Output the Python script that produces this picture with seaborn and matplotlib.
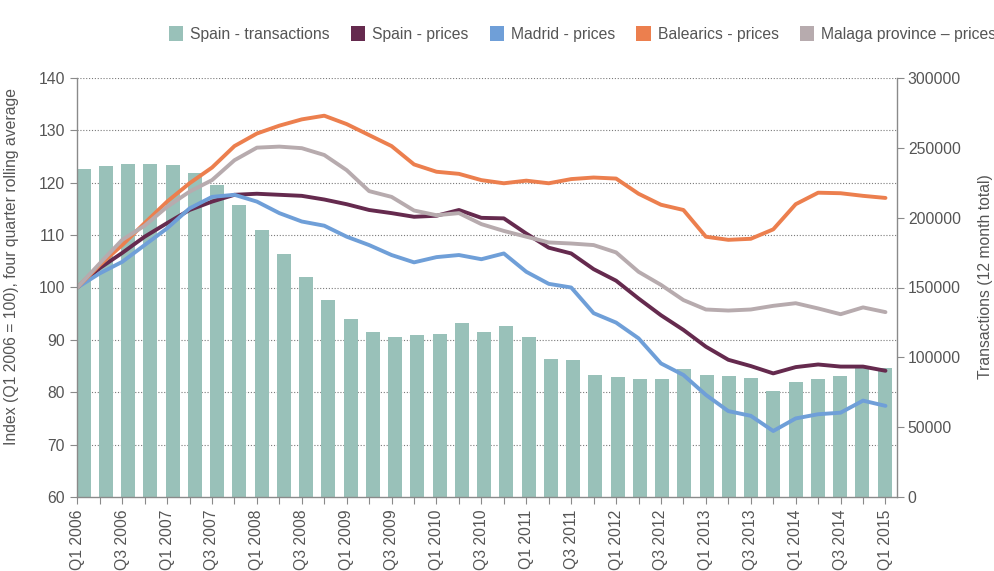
import numpy as np
import pandas as pd
import matplotlib
matplotlib.use("Agg")
import matplotlib.pyplot as plt
import seaborn as sns
from matplotlib.patches import Patch

# ---------------- data ----------------
tick_labels = ["Q1 2006", "Q3 2006", "Q1 2007", "Q3 2007", "Q1 2008", "Q3 2008",
               "Q1 2009", "Q3 2009", "Q1 2010", "Q3 2010", "Q1 2011", "Q3 2011",
               "Q1 2012", "Q3 2012", "Q1 2013", "Q3 2013", "Q1 2014", "Q3 2014",
               "Q1 2015"]

transactions = [234600, 237200, 238400, 238700, 237900, 232000, 223200, 209100,
                191200, 173800, 157700, 141200, 127700, 118400, 114300, 115800,
                116500, 124800, 118100, 122700, 114300, 99000, 98100, 87100,
                85900, 84700, 84300, 91400, 87400, 86600, 85400, 75700,
                82100, 84700, 86900, 92100, 92400]

spain_prices = [100, 103.7, 106.6, 109.7, 112.3, 114.8, 116.4, 117.7, 117.9, 117.7,
                117.5, 116.8, 115.9, 114.8, 114.2, 113.5, 113.7, 114.8, 113.3, 113.2,
                110.3, 107.6, 106.5, 103.5, 101.3, 97.9, 94.7, 91.9, 88.7, 86.2,
                85.0, 83.6, 84.8, 85.3, 84.9, 84.9, 84.1]

madrid_prices = [100, 102.7, 104.9, 108.1, 111.3, 115.1, 117.3, 117.7, 116.4, 114.2,
                 112.6, 111.8, 109.7, 108.1, 106.2, 104.8, 105.8, 106.2, 105.4, 106.5,
                 103.0, 100.7, 100.0, 95.1, 93.3, 90.3, 85.5, 83.3, 79.5, 76.4,
                 75.5, 72.6, 75.0, 75.8, 76.1, 78.4, 77.4]

balearics_prices = [100, 104.3, 108.1, 112.3, 116.4, 119.9, 122.9, 127.0, 129.4, 130.9,
                    132.1, 132.8, 131.2, 129.1, 127.0, 123.5, 122.1, 121.7, 120.5, 119.9,
                    120.4, 119.9, 120.7, 121.0, 120.8, 117.9, 115.8, 114.8, 109.7, 109.1,
                    109.3, 111.1, 115.9, 118.1, 118.0, 117.5, 117.1]

malaga_prices = [100, 104.6, 109.1, 111.8, 115.4, 118.3, 120.5, 124.3, 126.7, 126.9,
                 126.6, 125.3, 122.4, 118.4, 117.3, 114.7, 113.8, 114.2, 112.1, 110.8,
                 109.7, 108.6, 108.4, 108.1, 106.7, 103.0, 100.5, 97.6, 95.8, 95.6,
                 95.8, 96.5, 97.0, 96.0, 94.9, 96.2, 95.3]

series_names = ["Spain - prices", "Madrid - prices", "Balearics - prices",
                "Malaga province \u2013 prices"]
bar_name = "Spain - transactions"

# ---------------- style ----------------
bar_color = "#99c1b9"
palette = {
    "Spain - prices": "#652a4e",
    "Madrid - prices": "#6f9fd8",
    "Balearics - prices": "#ec7f4e",
    "Malaga province \u2013 prices": "#b7abae",
}
text_color = "#555555"
spine_color = "#8a8a8a"
fs = 11.3

sns.set_theme(style="white")
plt.rcParams["font.family"] = ["Liberation Sans", "DejaVu Sans"]

n = len(transactions)
x_line = np.arange(n)
x_bar = np.linspace(0.28, n - 1 - 0.04, n)

fig = plt.figure(figsize=(9.95, 5.71), dpi=100)
ax_bar = fig.add_axes([77.3 / 995, 1 - 497 / 571, (896.7 - 77.3) / 995, (497 - 78) / 571])
ax_line = ax_bar.twinx()

# bars (right axis)
bar_df = pd.DataFrame({"x": x_bar, "transactions": transactions})
sns.barplot(data=bar_df, x="x", y="transactions", native_scale=True, color=bar_color,
            saturation=1, width=0.63, ax=ax_bar, zorder=2, linewidth=0)

# gridlines follow the left (index) axis, drawn behind the bars
for v in range(70, 141, 10):
    ax_bar.axhline((v - 60) / 80 * 300000, color="#7a7a7a", lw=0.8,
                   ls=(0, (1, 1.6)), zorder=0)

# lines (left axis)
line_df = pd.DataFrame({
    "x": np.tile(x_line, 4),
    "value": spain_prices + madrid_prices + balearics_prices + malaga_prices,
    "series": np.repeat(series_names, n),
})
sns.lineplot(data=line_df, x="x", y="value", hue="series", hue_order=series_names,
             palette=palette, linewidth=2.8, legend=False, ax=ax_line)

# axes layout: index axis on the left, transactions on the right
ax_line.yaxis.tick_left()
ax_line.yaxis.set_label_position("left")
ax_bar.yaxis.tick_right()
ax_bar.yaxis.set_label_position("right")

ax_bar.set_xlim(0, 36.5)
ax_bar.set_ylim(0, 300000)
ax_line.set_ylim(60, 140)
ax_line.set_yticks(range(60, 141, 10))
ax_bar.set_yticks(range(0, 300001, 50000))
ax_bar.set_yticklabels([str(v) for v in range(0, 300001, 50000)])

ax_bar.set_xticks(x_line)
labels = []
for i in range(n):
    labels.append(tick_labels[i // 2] if i % 2 == 0 else "")
ax_bar.set_xticklabels(labels, rotation=90, va="top", ha="center")
ax_bar.set_xlabel("")
ax_line.set_xlabel("")

for a in (ax_bar, ax_line):
    for s in a.spines.values():
        s.set_visible(False)
ax_line.spines["left"].set_visible(True)
ax_line.spines["left"].set_color(spine_color)
ax_bar.spines["bottom"].set_visible(True)
ax_bar.spines["bottom"].set_color(spine_color)
ax_bar.spines["right"].set_visible(True)
ax_bar.spines["right"].set_color(spine_color)
ax_line.spines["left"].set_linewidth(1.0)
ax_bar.spines["bottom"].set_linewidth(1.0)
ax_bar.spines["right"].set_linewidth(1.0)

ax_line.tick_params(axis="y", which="both", left=True, right=False, length=5, width=0.8,
                    color=spine_color, labelsize=fs, labelcolor=text_color, pad=4)
ax_bar.tick_params(axis="y", which="both", right=True, left=False, length=5, width=0.8,
                   color=spine_color, labelsize=fs, labelcolor=text_color, pad=3)
ax_bar.tick_params(axis="x", bottom=True, length=5, width=0.8, color=spine_color,
                   labelsize=fs, labelcolor=text_color, pad=4)

ax_line.set_ylabel("Index (Q1 2006 = 100), four quarter rolling average",
                   fontsize=fs, color=text_color)
ax_line.yaxis.set_label_coords(-0.0715, 0.549)
ax_bar.set_ylabel("Transactions (12 month total)", fontsize=fs, color=text_color,
                  rotation=90)
ax_bar.yaxis.set_label_coords(1.0995, 0.527)

# legend
handles = [Patch(facecolor=bar_color, edgecolor="none", label=bar_name)]
for s in series_names:
    handles.append(Patch(facecolor=palette[s], edgecolor="none", label=s))
leg = fig.legend(handles=handles, loc="center left",
                 bbox_to_anchor=(169 / 995, 1 - 34 / 571), ncol=5, frameon=False,
                 fontsize=fs, handlelength=0.9, handleheight=1.1, handletextpad=0.45,
                 columnspacing=1.35, borderaxespad=0, borderpad=0)
for t in leg.get_texts():
    t.set_color(text_color)

fig.savefig("out.png", dpi=100)
